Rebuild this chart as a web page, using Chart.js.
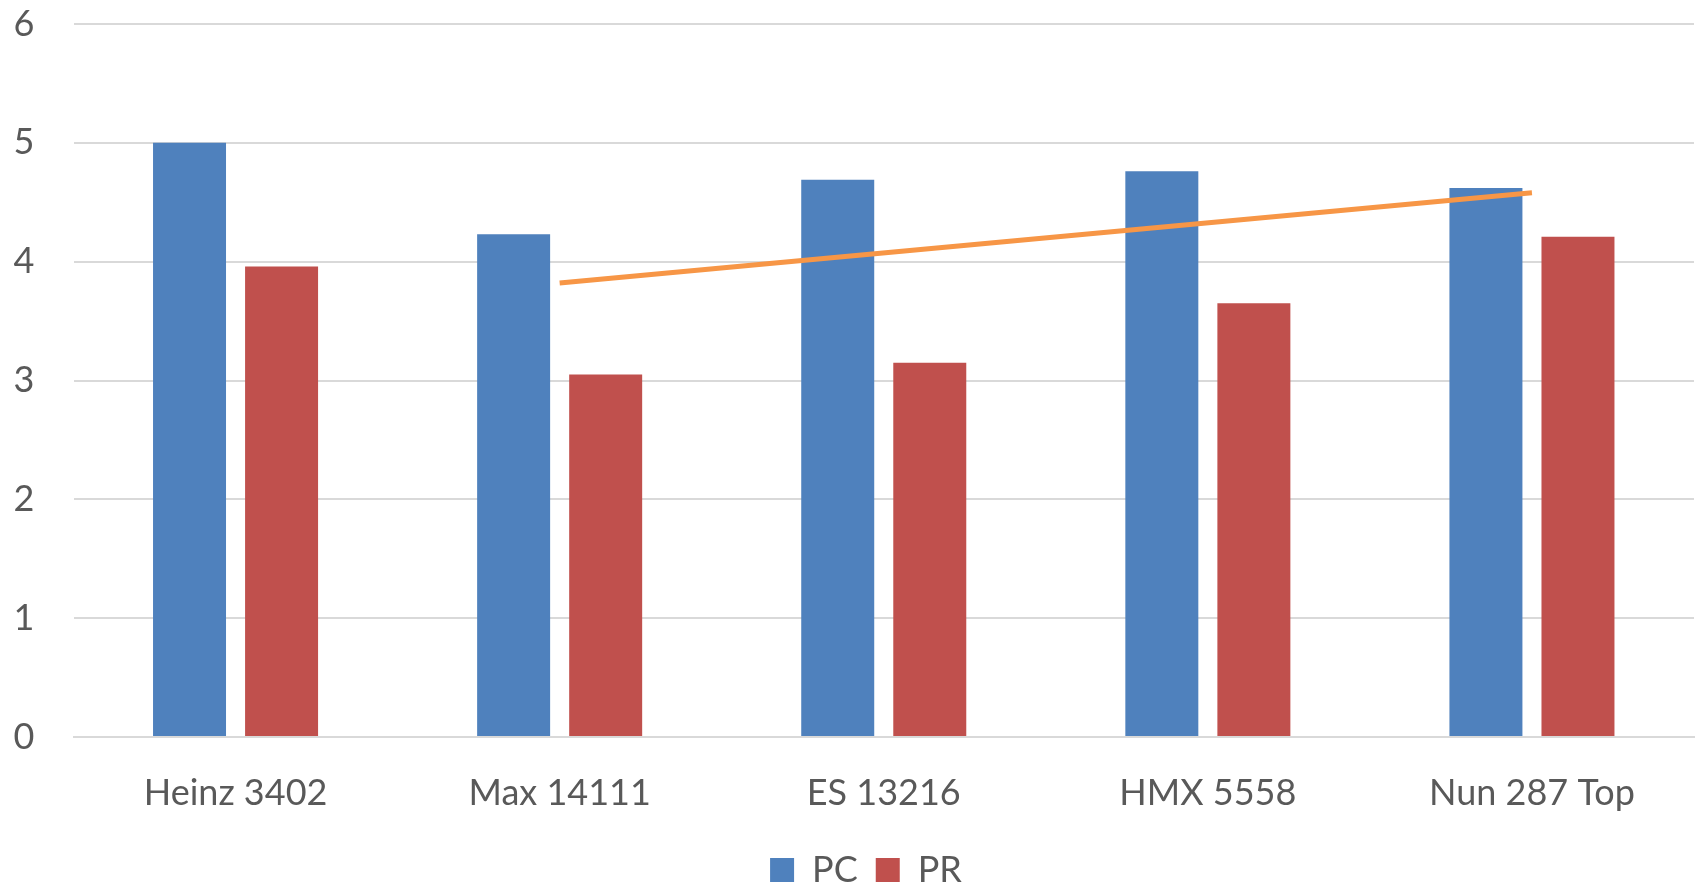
<!DOCTYPE html>
<html>
<head>
<meta charset="utf-8">
<script src="https://cdn.jsdelivr.net/npm/chart.js@4"></script>
<style>
  body { margin: 0; background: #fff; }
  #wrap { width: 1696px; height: 883px; }
</style>
</head>
<body>
<div id="wrap"><canvas id="chart" width="1696" height="883"></canvas></div>
<script>
const categories = ['Heinz 3402', 'Max 14111', 'ES 13216', 'HMX 5558', 'Nun 287 Top'];
const pcValues = [5.0, 4.23, 4.69, 4.76, 4.62];
const prValues = [3.96, 3.05, 3.15, 3.65, 4.21];
// orange line: only its two end values, drawn straight between them
const trendValues = [null, 3.82, null, null, 4.58];
const yTicks = [0, 1, 2, 3, 4, 5, 6];

const textColor = '#595959';
const fontFamily = 'Lato, "Open Sans", sans-serif';

const ctx = document.getElementById('chart').getContext('2d');
new Chart(ctx, {
    type: 'bar',
    data: {
        labels: categories,
        datasets: [
            { label: 'PC', data: pcValues, backgroundColor: '#4f81bd', order: 2,
              categoryPercentage: 0.568, barPercentage: 0.793 },
            { label: 'PR', data: prValues, backgroundColor: '#c0504d', order: 2,
              categoryPercentage: 0.568, barPercentage: 0.793 },
            { type: 'line', label: 'trend', data: trendValues, order: 0, spanGaps: true,
              borderColor: '#f79646', borderWidth: 5, pointRadius: 0, fill: false }
        ]
    },
    options: {
        responsive: false,
        animation: false,
        // left padding moves the legend centre; y labels are drawn mirrored with a negative
        // padding so they still sit at the far left
        layout: { padding: { left: 38, right: 2, top: 0, bottom: -15 } },
        scales: {
            x: {
                grid: { display: false, drawTicks: false },
                border: { display: true, color: '#d9d9d9', width: 2 },
                ticks: { color: textColor, font: { family: fontFamily, size: 36 }, padding: 35 },
                afterFit: axis => { axis.height = 97; }
            },
            y: {
                min: 0, max: 6,
                afterBuildTicks: axis => { axis.ticks = yTicks.map(v => ({ value: v })); },
                grid: { color: '#d9d9d9', lineWidth: 2, drawTicks: false },
                border: { display: false },
                ticks: { color: textColor, font: { family: fontFamily, size: 36 }, mirror: true, padding: -60 },
                afterFit: axis => { axis.width = 35.5; axis.paddingTop = 24; }
            }
        },
        plugins: {
            tooltip: { enabled: false },
            legend: {
                position: 'bottom',
                labels: {
                    filter: item => item.datasetIndex < 2,
                    boxWidth: 24, boxHeight: 24, padding: 18,
                    color: textColor, font: { family: fontFamily, size: 36 }
                }
            }
        }
    }
});
</script>
</body>
</html>
